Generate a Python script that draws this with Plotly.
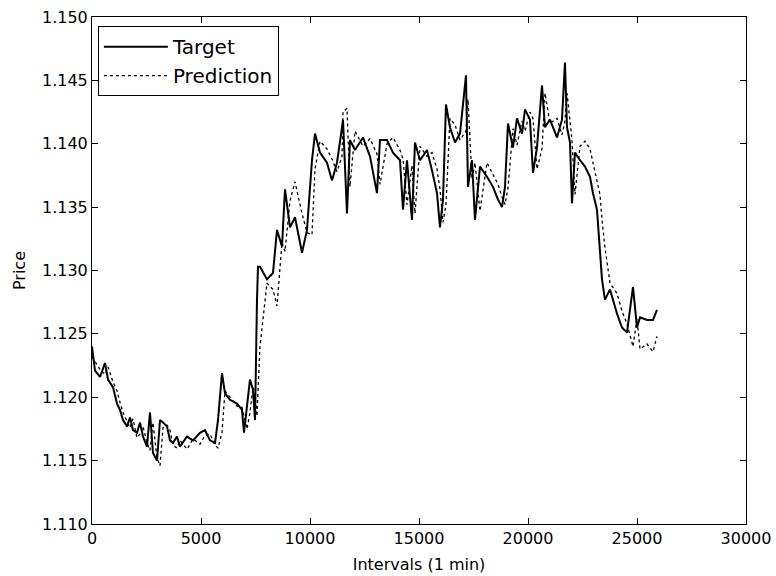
import plotly.graph_objects as go

intervals = [0, 138, 367, 596, 734, 963, 1147, 1284, 1422, 1605, 1743, 1881, 2064, 2202, 2339, 2523,
             2660, 2798, 2982, 3119, 3257, 3440, 3578, 3715, 3899, 4037, 4358, 4633, 4954, 5183, 5413,
             5642, 5780, 5963, 6101, 6330, 6651, 6881, 6972, 7110, 7247, 7385, 7477, 7569, 7614, 7706,
             8027, 8302, 8486, 8715, 8853, 9082, 9312, 9633, 9862, 10091, 10229, 10458, 10779, 11009,
             11238, 11468, 11513, 11697, 11834, 12064, 12431, 12752, 13073, 13211, 13532, 13807, 14128,
             14266, 14449, 14678, 14816, 15045, 15366, 15596, 15825, 15963, 16100, 16238, 16421, 16651,
             16880, 17155, 17247, 17431, 17568, 17798, 18119, 18394, 18623, 18807, 18944, 19082, 19311,
             19495, 19724, 19862, 20091, 20229, 20412, 20642, 20779, 21008, 21330, 21559, 21697, 21789,
             21926, 22018, 22155, 22385, 22614, 22843, 22981, 23164, 23302, 23394, 23531, 23761, 24082,
             24311, 24540, 24816, 25000, 25137, 25458, 25733, 25917]

target = [1.1240, 1.1221, 1.1216, 1.1227, 1.1214, 1.1208, 1.1195, 1.1190, 1.1182, 1.1177, 1.1184, 1.1174,
          1.1172, 1.1180, 1.1169, 1.1161, 1.1188, 1.1156, 1.1150, 1.1182, 1.1180, 1.1177, 1.1166, 1.1164,
          1.1169, 1.1161, 1.1169, 1.1166, 1.1172, 1.1174, 1.1166, 1.1164, 1.1182, 1.1219, 1.1203, 1.1198,
          1.1195, 1.1190, 1.1172, 1.1192, 1.1214, 1.1206, 1.1182, 1.1277, 1.1303, 1.1303, 1.1293, 1.1298,
          1.1332, 1.1319, 1.1364, 1.1334, 1.1342, 1.1314, 1.1332, 1.1387, 1.1408, 1.1393, 1.1385, 1.1371,
          1.1385, 1.1413, 1.1419, 1.1345, 1.1403, 1.1395, 1.1405, 1.1390, 1.1361, 1.1403, 1.1403, 1.1393,
          1.1387, 1.1348, 1.1387, 1.1340, 1.1401, 1.1387, 1.1395, 1.1379, 1.1361, 1.1334, 1.1356, 1.1431,
          1.1413, 1.1401, 1.1408, 1.1454, 1.1366, 1.1387, 1.1340, 1.1382, 1.1374, 1.1366, 1.1356, 1.1350,
          1.1366, 1.1416, 1.1397, 1.1420, 1.1408, 1.1427, 1.1419, 1.1377, 1.1397, 1.1446, 1.1413, 1.1419,
          1.1405, 1.1419, 1.1464, 1.1413, 1.1401, 1.1353, 1.1393, 1.1387, 1.1382, 1.1374, 1.1361, 1.1348,
          1.1314, 1.1293, 1.1277, 1.1285, 1.1266, 1.1255, 1.1251, 1.1287, 1.1255, 1.1263, 1.1261, 1.1261,
          1.1269]

prediction = [1.1232, 1.1228, 1.1222, 1.1218, 1.1224, 1.1212, 1.1205, 1.1196, 1.1188, 1.1181, 1.1176,
              1.1183, 1.1168, 1.1171, 1.1177, 1.1164, 1.1158, 1.1180, 1.1152, 1.1146, 1.1176, 1.1178,
              1.1174, 1.1162, 1.1160, 1.1166, 1.1159, 1.1167, 1.1163, 1.1170, 1.1171, 1.1162, 1.1160,
              1.1172, 1.1205, 1.1200, 1.1193, 1.1192, 1.1186, 1.1175, 1.1188, 1.1208, 1.1202, 1.1185,
              1.1205, 1.1240, 1.1290, 1.1285, 1.1272, 1.1322, 1.1315, 1.1355, 1.1370, 1.1345, 1.1330,
              1.1328, 1.1380, 1.1402, 1.1396, 1.1388, 1.1378, 1.1390, 1.1425, 1.1428, 1.1366, 1.1410,
              1.1398, 1.1404, 1.1392, 1.1368, 1.1400, 1.1405, 1.1395, 1.1388, 1.1352, 1.1383, 1.1345,
              1.1398, 1.1390, 1.1393, 1.1380, 1.1364, 1.1338, 1.1352, 1.1420, 1.1415, 1.1403, 1.1410,
              1.1435, 1.1372, 1.1385, 1.1347, 1.1385, 1.1376, 1.1368, 1.1358, 1.1352, 1.1365, 1.1412,
              1.1399, 1.1418, 1.1410, 1.1425, 1.1420, 1.1380, 1.1396, 1.1440, 1.1416, 1.1420, 1.1407,
              1.1418, 1.1440, 1.1415, 1.1403, 1.1360, 1.1398, 1.1402, 1.1396, 1.1385, 1.1372, 1.1360,
              1.1340, 1.1318, 1.1290, 1.1282, 1.1268, 1.1258, 1.1240, 1.1262, 1.1238, 1.1242, 1.1236,
              1.1248]

x_ticks = [0, 5000, 10000, 15000, 20000, 25000, 30000]
y_ticks = [1.110, 1.115, 1.120, 1.125, 1.130, 1.135, 1.140, 1.145, 1.150]

fig = go.Figure()
fig.add_trace(go.Scatter(x=intervals, y=target, mode="lines", name="Target", legendgroup="t",
                         line=dict(color="black", width=2)))
fig.add_trace(go.Scatter(x=intervals, y=prediction, mode="lines", name="Prediction", legendgroup="p",
                         line=dict(color="black", width=1.3, dash="dot")))

font = "DejaVu Sans, sans-serif"
axis_common = dict(showgrid=False, zeroline=False, showline=True, linecolor="black", linewidth=1,
                   mirror="allticks", ticks="inside", ticklen=6, tickcolor="black", tickwidth=1,
                   tickfont=dict(family=font, size=16, color="black"))

fig.update_xaxes(range=[0, 30000], tickvals=x_ticks, ticktext=[str(v) for v in x_ticks],
                 title=dict(text="Intervals (1 min)", font=dict(family=font, size=16, color="black"),
                            standoff=11),
                 **axis_common)
fig.update_yaxes(range=[1.110, 1.150], tickvals=y_ticks, ticktext=["%.3f" % v for v in y_ticks],
                 title=dict(text="Price", font=dict(family=font, size=16, color="black"), standoff=12),
                 **axis_common)

fig.update_layout(
    width=776, height=576,
    margin=dict(l=92, r=30, t=17, b=52, autoexpand=False),
    paper_bgcolor="white", plot_bgcolor="white",
    font=dict(family=font, color="black"),
    legend=dict(x=0.009, y=0.982, xanchor="left", yanchor="top",
                bgcolor="white", bordercolor="black", borderwidth=1,
                font=dict(family=font, size=20, color="black"),
                tracegroupgap=0, itemwidth=64),
    showlegend=True,
)

fig.write_html("out.html")
